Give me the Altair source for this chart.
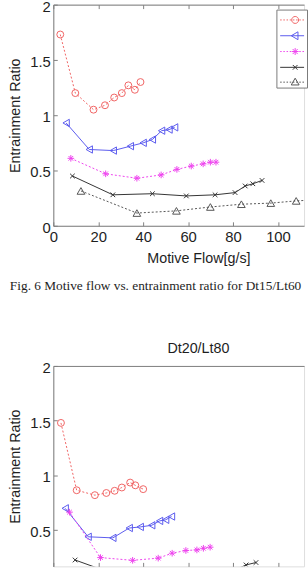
import altair as alt
import pandas as pd

series_names = ["Case 1", "Case 2", "Case 3", "Case 4", "Case 5"]
series_colors = ["#f06464", "#5a5aee", "#ee44ee", "#333333", "#555555"]

# ---- Fig. 6 : Dt15/Lt60 ----
a_x = [
    [3.1, 9.8, 17.9, 23.0, 27.1, 30.5, 33.4, 36.3, 38.8],
    [5.7, 16.0, 26.7, 34.3, 40.0, 44.1, 48.2, 51.5, 54.0],
    [7.8, 23.3, 37.2, 48.0, 55.0, 61.4, 66.7, 69.9, 72.4],
    [8.5, 26.5, 44.1, 59.2, 72.0, 80.9, 85.4, 88.8, 92.9],
    [12.3, 37.2, 54.8, 69.9, 83.7, 96.8, 108.1, 121.5],
]
a_y = [
    [1.73, 1.20, 1.05, 1.09, 1.16, 1.20, 1.27, 1.23, 1.30],
    [0.93, 0.69, 0.68, 0.72, 0.75, 0.78, 0.86, 0.87, 0.89],
    [0.61, 0.47, 0.43, 0.46, 0.51, 0.54, 0.56, 0.575, 0.575],
    [0.45, 0.28, 0.29, 0.27, 0.28, 0.30, 0.36, 0.38, 0.41],
    [0.315, 0.115, 0.135, 0.17, 0.195, 0.205, 0.225, 0.24],
]

# ---- Dt20/Lt80 ----
b_x = [
    [3.4, 10.4, 18.5, 23.6, 27.3, 30.5, 34.2, 36.5, 40.0],
    [5.3, 15.5, 26.5, 33.8, 38.7, 43.8, 47.3, 50.0, 52.6],
    [7.2, 21.0, 35.3, 46.7, 52.9, 59.0, 63.9, 66.8, 69.8],
    [9.7, 27.0, 44.0, 60.0, 72.0, 80.0, 85.8, 90.2],
    [12.0, 37.0, 55.0, 70.0, 84.0, 97.0, 108.0],
]
b_y = [
    [1.48, 0.865, 0.82, 0.84, 0.86, 0.89, 0.935, 0.91, 0.875],
    [0.70, 0.44, 0.43, 0.52, 0.53, 0.545, 0.585, 0.595, 0.625],
    [0.665, 0.25, 0.225, 0.245, 0.29, 0.315, 0.32, 0.335, 0.345],
    [0.228, 0.10, 0.10, 0.09, 0.10, 0.13, 0.183, 0.205],
    [0.09, 0.05, 0.05, 0.06, 0.07, 0.08, 0.09],
]

x_ticks = [0, 20, 40, 60, 80, 100]
y_ticks = [0, 0.5, 1, 1.5, 2]
caption = "Fig. 6 Motive flow vs. entrainment ratio for Dt15/Lt60"
title_b = "Dt20/Lt80"

# marker styles
ASTER = "M-1,0L1,0M0,-1L0,1M-0.7,-0.7L0.7,0.7M-0.7,0.7L0.7,-0.7"
XMARK = "M-1,-1L1,1M-1,1L1,-1"
marker_shapes = ["circle", "triangle-left", ASTER, XMARK, "triangle-up"]
marker_sizes = [49, 55, 45, 22, 60]
line_dashes = [[2, 2], None, [2, 2], None, [2, 2]]

# legend symbol paths (line sample + marker), unit = sqrt(symbolSize)/2
def line_part(dotted):
    if not dotted:
        return "M-1.6,0L0.95,0"
    segs = []
    p = -1.6
    while p < 0.95:
        segs.append("M%.2f,0L%.2f,0" % (p, min(p + 0.16, 0.95)))
        p += 0.34
    return "".join(segs)

marker_parts = [
    "M-0.37,0A0.37,0.37 0 1,0 0.37,0A0.37,0.37 0 1,0 -0.37,0",
    "M-0.42,0L0.3,-0.42L0.3,0.42Z",
    "M-0.37,0L0.37,0M0,-0.37L0,0.37M-0.27,-0.27L0.27,0.27M-0.27,0.27L0.27,-0.27",
    "M-0.25,-0.25L0.25,0.25M-0.25,0.25L0.25,-0.25",
    "M0,-0.42L0.42,0.3L-0.42,0.3Z",
]
legend_paths = [line_part(d is not None) + m for d, m in zip(line_dashes, marker_parts)]

SANS = "Liberation Sans"
GRID = "#808080"
TXT = "#1e1e1e"
PLOT_W = 254

xsc = alt.Scale(domain=[0, 111.6], nice=False, zero=False)


def make_panel(xs, ys, height, ymin, legend_y, show_bottom):
    frames = []
    for name, x, y in zip(series_names, xs, ys):
        frames.append(pd.DataFrame({"flow": x, "ratio": y, "series": name}))
    df = pd.concat(frames, ignore_index=True)
    ysc = alt.Scale(domain=[ymin, 2], nice=False, zero=False)

    layers = []
    for i, name in enumerate(series_names):
        base = alt.Chart(df).transform_filter(alt.datum.series == name)
        enc = dict(
            x=alt.X("flow:Q", scale=xsc, axis=None),
            y=alt.Y("ratio:Q", scale=ysc, axis=None),
        )
        lkw = dict(color=series_colors[i], strokeWidth=1, clip=True)
        if line_dashes[i] is not None:
            lkw["strokeDash"] = line_dashes[i]
        layers.append(base.mark_line(**lkw).encode(**enc))
        layers.append(
            base.mark_point(
                shape=marker_shapes[i], size=marker_sizes[i], color=series_colors[i],
                filled=False, strokeWidth=1, opacity=1, clip=True,
            ).encode(**enc)
        )

    leg = alt.Legend(
        orient="none", legendX=226, legendY=legend_y, title=None,
        strokeColor="#7a7a7a", fillColor="white", padding=0.5, rowPadding=0,
        symbolSize=361, symbolOffset=8.5, symbolStrokeWidth=1, symbolOpacity=1,
        labelExpr="''", labelFontSize=1, labelOffset=0,
    )
    if show_bottom:
        bottom_axis = alt.Axis(
            orient="bottom", values=x_ticks, format="d", title="Motive Flow[g/s]",
            domain=True, domainColor=GRID, domainWidth=1,
            ticks=False, grid=True, gridDash=[4, 3000], gridColor=GRID,
            labelFont=SANS, labelFontSize=15, labelColor=TXT, labelPadding=4,
            labelFlush=False, labelOverlap=False,
            titleFont=SANS, titleFontSize=14.5, titleFontWeight="normal",
            titleColor=TXT, titlePadding=7, titleX=147,
        )
    else:
        bottom_axis = None
    left_axis = alt.Axis(
        orient="left", values=[v for v in y_ticks if v >= ymin], format="~g",
        title="Entrainment Ratio",
        domain=True, domainColor=GRID, domainWidth=1,
        ticks=False, grid=True, gridDash=[4, 3000], gridColor=GRID,
        labelFont=SANS, labelFontSize=15, labelColor=TXT, labelPadding=3,
        labelFlush=False, labelOverlap=False, labelOffset=1.5,
        titleFont=SANS, titleFontSize=14.5, titleFontWeight="normal",
        titleColor=TXT, titlePadding=7,
    )
    top_axis = alt.Axis(
        orient="top", values=x_ticks, labels=False, title=None,
        domain=True, domainColor=GRID, domainWidth=1,
        ticks=False, grid=True, gridDash=[4, 3000], gridColor=GRID,
    )
    guide = alt.Chart(df).mark_point(opacity=0, filled=False, clip=True).encode(
        x=alt.X("flow:Q", scale=xsc, axis=bottom_axis),
        y=alt.Y("ratio:Q", scale=ysc, axis=left_axis),
        color=alt.Color("series:N", scale=alt.Scale(domain=series_names, range=series_colors), legend=leg),
        shape=alt.Shape("series:N", scale=alt.Scale(domain=series_names, range=legend_paths), legend=leg),
    )
    topg = alt.Chart(df).mark_point(opacity=0, clip=True).encode(
        x=alt.X("flow:Q", scale=xsc, axis=top_axis),
        y=alt.Y("ratio:Q", scale=ysc, axis=None),
    )
    return alt.layer(*layers, guide, topg).resolve_axis(x="independent", y="independent")


top = make_panel(a_x, a_y, 224, 0, 5, True).properties(
    width=PLOT_W, height=224,
    title=alt.TitleParams(
        caption, orient="bottom", anchor="start", frame="group", dx=-44, offset=15,
        font="Liberation Serif", fontSize=13.5, fontWeight="normal", color=TXT,
    ),
)
bottom = make_panel(b_x, b_y, 203, 0.17, 2, False).properties(
    width=PLOT_W, height=203,
    title=alt.TitleParams(
        title_b, anchor="middle", frame="group", offset=4, dx=20,
        font=SANS, fontSize=14.5, fontWeight="normal", color=TXT,
    ),
)

chart = (
    alt.vconcat(top, bottom, spacing=47)
    .properties(padding={"left": 7, "top": -5, "right": 0, "bottom": 0})
    .configure_view(strokeOpacity=0)
    .configure(background="white")
)

chart.save("out.html", embed_options={"renderer": "svg", "actions": False})
